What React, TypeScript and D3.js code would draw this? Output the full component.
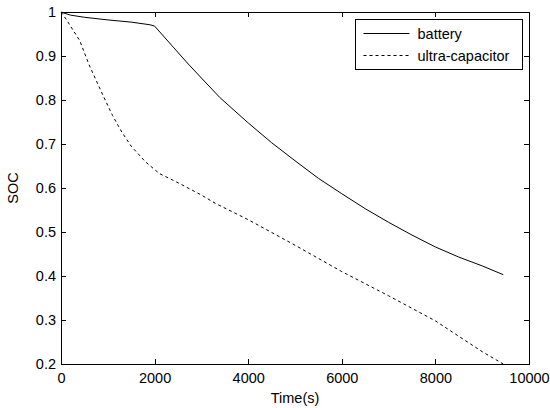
import React, { useRef, useEffect } from 'react';
import * as d3 from 'd3';

const batteryTime = [0, 50, 200, 500, 1000, 1500, 1900, 2000, 2400, 2700, 3000, 3400, 4000, 4500, 5000, 5500, 6000, 6500, 7000, 7500, 8000, 8500, 9000, 9450];
const batterySoc = [1.0, 0.998, 0.993, 0.988, 0.982, 0.977, 0.971, 0.968, 0.92, 0.884, 0.85, 0.805, 0.748, 0.703, 0.662, 0.622, 0.587, 0.553, 0.522, 0.493, 0.466, 0.443, 0.423, 0.403];

const ucapTime = [0, 120, 400, 600, 900, 1100, 1300, 1500, 1800, 2100, 2500, 3000, 3300, 4000, 5000, 6000, 7000, 8000, 9000, 9450];
const ucapSoc = [1.0, 0.982, 0.935, 0.88, 0.81, 0.765, 0.727, 0.695, 0.66, 0.633, 0.612, 0.584, 0.565, 0.528, 0.47, 0.41, 0.355, 0.298, 0.228, 0.2];

const xTicks = [0, 2000, 4000, 6000, 8000, 10000];
const yTicks = [0.2, 0.3, 0.4, 0.5, 0.6, 0.7, 0.8, 0.9, 1];
const legendLabels = ['battery', 'ultra-capacitor'];

const width = 550;
const height = 408;
const margin = { top: 12, right: 21, bottom: 44, left: 61 };
const font = '"Liberation Sans", Arial, Helvetica, sans-serif';
const fontSize = 14.5;

export default function App() {
  const svgEl = useRef<SVGSVGElement>(null);

  useEffect(() => {
    const svg = d3.select(svgEl.current);
    svg.selectAll('*').remove();

    const innerW = width - margin.left - margin.right;
    const innerH = height - margin.top - margin.bottom;

    const x = d3.scaleLinear().domain([0, 10000]).range([0, innerW]);
    const y = d3.scaleLinear().domain([0.2, 1]).range([innerH, 0]);

    svg.append('rect').attr('width', width).attr('height', height).attr('fill', '#fff');

    const g = svg.append('g').attr('transform', `translate(${margin.left},${margin.top})`);

    const line = d3
      .line<[number, number]>()
      .x((d) => x(d[0]))
      .y((d) => y(d[1]));

    const battery = batteryTime.map((t, i) => [t, batterySoc[i]] as [number, number]);
    const ucap = ucapTime.map((t, i) => [t, ucapSoc[i]] as [number, number]);

    g.append('path')
      .attr('d', line(battery))
      .attr('fill', 'none')
      .attr('stroke', '#000')
      .attr('stroke-width', 1);

    g.append('path')
      .attr('d', line(ucap))
      .attr('fill', 'none')
      .attr('stroke', '#000')
      .attr('stroke-width', 1)
      .attr('stroke-dasharray', '3,3');

    const styleAxis = (sel) => {
      sel.select('.domain').remove();
      sel.selectAll('line').attr('stroke', '#000').attr('shape-rendering', 'crispEdges');
      sel.selectAll('text').attr('font-family', font).attr('font-size', fontSize).attr('fill', '#000');
    };

    const fmtY = (d) => (d === 1 ? '1' : d3.format('.1f')(d));

    g.append('g')
      .attr('transform', `translate(0,${innerH})`)
      .call(d3.axisBottom(x).tickValues(xTicks).tickFormat(d3.format('d')).tickSizeInner(-5).tickSizeOuter(0).tickPadding(9))
      .call(styleAxis);

    g.append('g')
      .call(d3.axisTop(x).tickValues(xTicks).tickFormat(() => '').tickSizeInner(-5).tickSizeOuter(0))
      .call(styleAxis);

    g.append('g')
      .call(d3.axisLeft(y).tickValues(yTicks).tickFormat(fmtY).tickSizeInner(-5).tickSizeOuter(0).tickPadding(5))
      .call(styleAxis);

    g.append('g')
      .attr('transform', `translate(${innerW},0)`)
      .call(d3.axisRight(y).tickValues(yTicks).tickFormat(() => '').tickSizeInner(-5).tickSizeOuter(0))
      .call(styleAxis);

    // box
    g.append('rect')
      .attr('x', 0.5)
      .attr('y', 0.5)
      .attr('width', innerW)
      .attr('height', innerH)
      .attr('fill', 'none')
      .attr('stroke', '#000')
      .attr('stroke-width', 1)
      .attr('shape-rendering', 'crispEdges');

    // axis labels
    svg.append('text')
      .attr('x', margin.left + innerW / 2)
      .attr('y', 403)
      .attr('text-anchor', 'middle')
      .attr('font-family', font)
      .attr('font-size', fontSize)
      .text('Time(s)');

    svg.append('text')
      .attr('transform', `translate(18,${margin.top + innerH / 2}) rotate(-90)`)
      .attr('text-anchor', 'middle')
      .attr('font-family', font)
      .attr('font-size', fontSize)
      .text('SOC');

    // legend
    const legend = svg.append('g').attr('transform', 'translate(355.5,19.5)');
    legend.append('rect')
      .attr('width', 167)
      .attr('height', 50)
      .attr('fill', '#fff')
      .attr('stroke', '#000')
      .attr('shape-rendering', 'crispEdges');
    legendLabels.forEach((label, i) => {
      const ly = 14 + i * 22;
      legend.append('line')
        .attr('x1', 8).attr('x2', 54)
        .attr('y1', ly).attr('y2', ly)
        .attr('stroke', '#000')
        .attr('stroke-dasharray', i === 1 ? '3,3' : null);
      legend.append('text')
        .attr('x', 62)
        .attr('y', ly + 5)
        .attr('font-family', font)
        .attr('font-size', fontSize)
        .text(label);
    });
  }, []);

  return (
    <svg
      ref={svgEl}
      width={width}
      height={height}
      style={{ position: 'absolute', left: 0, top: 0, display: 'block' }}
    ></svg>
  );
}
